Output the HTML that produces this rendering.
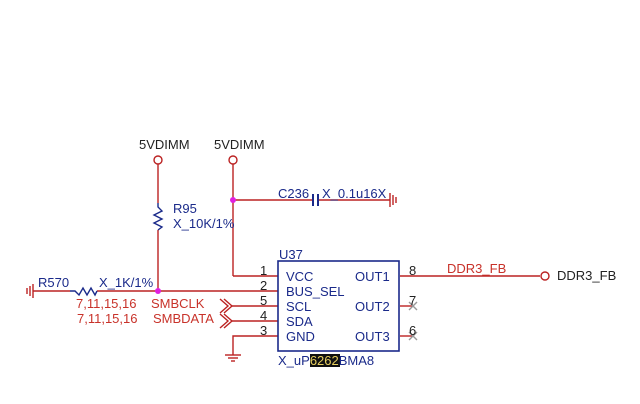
<!DOCTYPE html>
<html><head><style>
html,body{margin:0;padding:0;background:#fff;}
svg{display:block;}
text{font-family:"Liberation Sans",Arial,sans-serif;font-size:13px;}
.r{fill:#c8322a;} .b{fill:#1a2a8a;} .k{fill:#222;}
</style></head><body>
<svg width="640" height="404" viewBox="0 0 640 404" xmlns="http://www.w3.org/2000/svg">
<g stroke="#b22" stroke-width="1.4" fill="none">
 <line x1="158" y1="164" x2="158" y2="203"/>
 <line x1="158" y1="230" x2="158" y2="291"/>
 <line x1="233" y1="164" x2="233" y2="276"/>
 <line x1="233" y1="276" x2="278" y2="276"/>
 <line x1="233" y1="200" x2="313" y2="200"/>
 <line x1="319" y1="200" x2="390" y2="200"/>
 <line x1="33" y1="291" x2="70" y2="291"/>
 <line x1="97" y1="291" x2="278" y2="291"/>
 <line x1="232" y1="306" x2="278" y2="306"/>
 <line x1="232" y1="321" x2="278" y2="321"/>
 <polyline points="278,336 233,336 233,355"/>
 <line x1="400" y1="276" x2="540" y2="276"/>
 <line x1="400" y1="306" x2="413" y2="306"/>
 <line x1="400" y1="336" x2="413" y2="336"/>
 <line x1="33" y1="284" x2="33" y2="298"/>
 <line x1="30" y1="286" x2="30" y2="296"/>
 <line x1="27" y1="288" x2="27" y2="294"/>
 <line x1="390" y1="193" x2="390" y2="207"/>
 <line x1="393" y1="195" x2="393" y2="205"/>
 <line x1="396" y1="197" x2="396" y2="203"/>
 <line x1="225" y1="355" x2="241" y2="355"/>
 <line x1="228" y1="358" x2="238" y2="358"/>
 <line x1="231" y1="361" x2="235" y2="361"/>
 <polyline points="220,299 228,306 220,313"/>
 <polyline points="224,299 232,306 224,313"/>
 <polyline points="220,314 228,321 220,328"/>
 <polyline points="224,314 232,321 224,328"/>
 <circle cx="158" cy="160" r="4"/>
 <circle cx="233" cy="160" r="4"/>
 <circle cx="545" cy="276" r="4"/>
 <line x1="409" y1="302" x2="417" y2="310" stroke="#999"/>
 <line x1="417" y1="302" x2="409" y2="310" stroke="#999"/>
 <line x1="409" y1="332" x2="417" y2="340" stroke="#999"/>
 <line x1="417" y1="332" x2="409" y2="340" stroke="#999"/>
</g>
<g stroke="#1a2a8a" stroke-width="1.4" fill="none">
 <polyline points="158,203 158,207 162,211 154,215 162,219 154,223 162,227 158,230"/>
 <polyline points="70,291 75,291 79,295 83,288 87,295 91,288 95,295 97,291"/>
 <line x1="313" y1="194" x2="313" y2="206" stroke-width="2"/>
 <line x1="318" y1="194" x2="318" y2="206" stroke-width="2"/>
 <rect x="278" y="261" width="121" height="90" stroke-width="1.6"/>
</g>
<circle cx="233" cy="200" r="3" fill="#e020e0"/>
<circle cx="158" cy="291" r="3" fill="#e020e0"/>
<rect x="310" y="354" width="30" height="13" fill="#111"/>
<text class="k" x="139" y="149">5VDIMM</text>
<text class="k" x="214" y="149">5VDIMM</text>
<text class="b" x="173" y="213">R95</text>
<text class="b" x="173" y="228">X_10K/1%</text>
<text class="b" x="278" y="198">C236</text>
<text class="b" x="322" y="198">X_0.1u16X</text>
<text class="b" x="279" y="259">U37</text>
<text class="b" x="38" y="287">R570</text>
<text class="b" x="99" y="287">X_1K/1%</text>
<text class="r" x="76" y="308">7,11,15,16</text>
<text class="r" x="77" y="323">7,11,15,16</text>
<text class="r" x="151" y="308">SMBCLK</text>
<text class="r" x="153" y="323">SMBDATA</text>
<g class="k">
<text x="260" y="275">1</text><text x="260" y="290">2</text><text x="260" y="305">5</text><text x="260" y="320">4</text><text x="260" y="335">3</text>
<text x="409" y="275">8</text><text x="409" y="305">7</text><text x="409" y="335">6</text>
</g>
<g class="b">
<text x="286" y="281">VCC</text><text x="286" y="296">BUS_SEL</text><text x="286" y="311">SCL</text><text x="286" y="326">SDA</text><text x="286" y="341">GND</text>
<text x="355" y="281">OUT1</text><text x="355" y="311">OUT2</text><text x="355" y="341">OUT3</text>
</g>
<text class="r" x="447" y="273">DDR3_FB</text>
<text class="k" x="557" y="280">DDR3_FB</text>
<text class="b" x="278" y="365">X_uP<tspan fill="#e8d060">6262</tspan>BMA8</text>
</svg>
</body></html>
